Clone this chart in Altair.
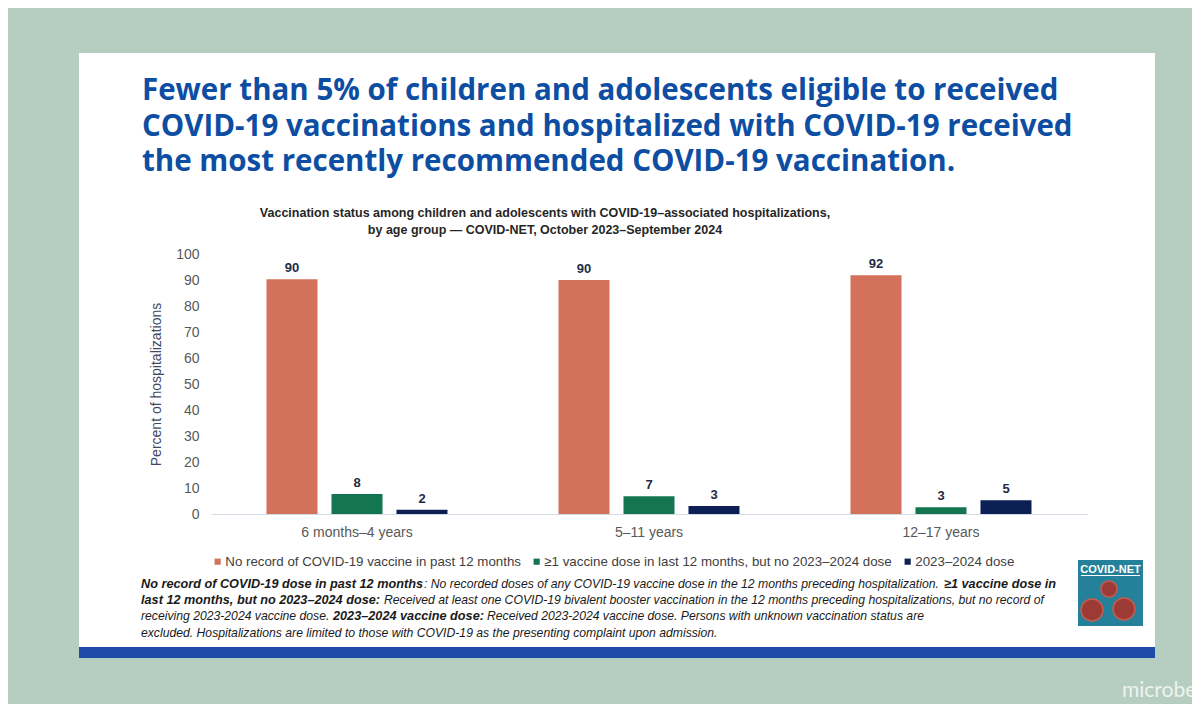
import altair as alt
import pandas as pd

# ---------------- data ----------------
groups = ["6 months\u20134 years", "5\u201311 years", "12\u201317 years"]
statuses = [
    "No record of COVID-19 vaccine in past 12 months",
    "\u22651 vaccine dose in last 12 months, but no 2023\u20132024 dose",
    "2023\u20132024 dose",
]
no_record = [90.3, 90.0, 91.8]
one_plus_dose = [7.7, 6.8, 2.6]
dose_2023_24 = [1.6, 3.1, 5.3]
y_ticks = [0, 10, 20, 30, 40, 50, 60, 70, 80, 90, 100]
colors = ["#d4715a", "#137650", "#0c2056"]

title_lines = [
    "Fewer than 5% of children and adolescents eligible to received",
    "COVID-19 vaccinations and hospitalized with COVID-19 received",
    "the most recently recommended COVID-19 vaccination.",
]
subtitle_lines = [
    "Vaccination status among children and adolescents with COVID-19\u2013associated hospitalizations,",
    "by age group \u2014 COVID-NET, October 2023\u2013September 2024",
]
# footnote segments: (line index, x start on page, text, bold)
footnote_segments = [
    (0, 141, "No record of COVID-19 dose in past 12 months", True),
    (0, 424, ": No recorded doses of any COVID-19 vaccine dose in the 12 months preceding hospitalization.", False),
    (0, 944, "\u22651 vaccine dose in", True),
    (1, 141, "last 12 months, but no 2023\u20132024 dose:", True),
    (1, 384, "Received at least one COVID-19 bivalent booster vaccination in the 12 months preceding hospitalizations, but no record of", False),
    (2, 141, "receiving 2023-2024 vaccine dose.", False),
    (2, 333, "2023\u20132024 vaccine dose:", True),
    (2, 487, "Received 2023-2024 vaccine dose. Persons with unknown vaccination status are", False),
    (3, 141, "excluded. Hospitalizations are limited to those with COVID-19 as the presenting complaint upon admission.", False),
]
footnote_baselines = [588, 604, 620, 637]

rows = []
for i, g in enumerate(groups):
    for s, vals in zip(statuses, [no_record, one_plus_dose, dose_2023_24]):
        rows.append({"group": g, "status": s, "value": vals[i]})
df = pd.DataFrame(rows)

# ---------------- layout ----------------
OX, OY = 211, 254          # page position of plot origin
W, H = 876, 260
FONT = "Liberation Sans"

one = pd.DataFrame({"k": [0]})


def rect(x1, y1, x2, y2, color):
    return alt.Chart(one).mark_rect(color=color).encode(
        x=alt.value(x1 - OX), x2=alt.value(x2 - OX),
        y=alt.value(y1 - OY), y2=alt.value(y2 - OY))


def txt(s, xp, yp, align="left", baseline="alphabetic", **kw):
    return alt.Chart(one).mark_text(text=s, align=align, baseline=baseline, **kw).encode(
        x=alt.value(xp - OX), y=alt.value(yp - OY))


base = alt.Chart(df).encode(
    x=alt.X("group:N", sort=groups, title=None,
            scale=alt.Scale(paddingInner=0, paddingOuter=0),
            axis=alt.Axis(labelAngle=0, ticks=False, domainColor="#d3dbe6",
                          labelFont=FONT, labelFontSize=14, labelColor="#595959",
                          labelPadding=11, zindex=1)),
    xOffset=alt.XOffset("status:N", sort=statuses,
                        scale=alt.Scale(paddingInner=0.215, paddingOuter=0.854)),
    y=alt.Y("value:Q", title="Percent of hospitalizations",
            scale=alt.Scale(domain=[0, 100]),
            axis=alt.Axis(values=y_ticks, tickCount=11, labelOverlap=False,
                          grid=False, domain=False, ticks=False,
                          labelFont=FONT, labelFontSize=14, labelColor="#595959",
                          labelPadding=12, titleFont=FONT, titleFontSize=14,
                          titleFontWeight="normal", titleColor="#3d4a66",
                          titlePadding=12, zindex=1)),
)

bars = base.mark_bar().encode(
    color=alt.Color("status:N", sort=statuses,
                    scale=alt.Scale(domain=statuses, range=colors),
                    legend=alt.Legend(title=None, orient="none", direction="horizontal",
                                      legendX=0, legendY=301, symbolType="square",
                                      symbolSize=38, symbolStrokeWidth=0,
                                      labelFont=FONT, labelFontSize=13.3, labelLimit=0,
                                      labelColor="#404040", labelOffset=1,
                                      columnPadding=9, zindex=1)),
)

labels = base.mark_text(dy=-7, baseline="alphabetic", font=FONT, fontSize=13,
                        fontWeight="bold", color="#1f2a44").encode(
    text=alt.Text("value:Q", format=".0f"),
)

layers = [
    rect(79, 53, 1155, 647, "white"),
    rect(79, 647, 1155, 658, "#1f4aa6"),
    bars,
    labels,
]

# slide title (one multi-line text)
layers.append(txt(title_lines, 142, 100, font="Open Sans", fontSize=29.5,
                  lineHeight=35.5, fontWeight="bold", color="#0d4ea3"))
# chart subtitle (one multi-line text)
layers.append(txt(subtitle_lines, 545, 217, align="center", font=FONT,
                  fontSize=12.5, lineHeight=17, fontWeight="bold", color="#262626"))
# footnote
for li, xs, s, b in footnote_segments:
    layers.append(txt(s, xs, footnote_baselines[li], font=FONT,
                      fontSize=12.7 if b else 12.2,
                      fontStyle="italic", fontWeight="bold" if b else "normal",
                      color="#1a1a1a"))

# logo
layers.append(rect(1078, 560, 1143, 626, "#25819a"))
layers.append(txt("COVID-NET", 1110.5, 573, align="center", font=FONT, fontSize=11,
                  fontWeight="bold", color="white"))
layers.append(rect(1081, 575, 1140, 576, "white"))
for cx, cy, sz in [(1109, 589, 260), (1092, 610, 480), (1124, 609, 480)]:
    layers.append(alt.Chart(one).mark_circle(size=sz, color="#9c3b36", opacity=1,
                                             stroke="#c85a4e", strokeWidth=1.5).encode(
        x=alt.value(cx - OX), y=alt.value(cy - OY)))

# watermark
layers.append(txt("microbe", 1122, 697, font="Lato", fontSize=21, color="#eef3ef"))

chart = alt.layer(*layers).properties(
    width=W, height=H,
    padding={"left": OX - 8, "top": OY - 8, "right": 1192 - OX - W, "bottom": 704 - OY - H},
    autosize=alt.AutoSizeParams(type="none"),
    background="#b5cec1",
).configure_view(stroke=None)

chart.save("out.html", embed_options={"renderer": "svg", "actions": False})
